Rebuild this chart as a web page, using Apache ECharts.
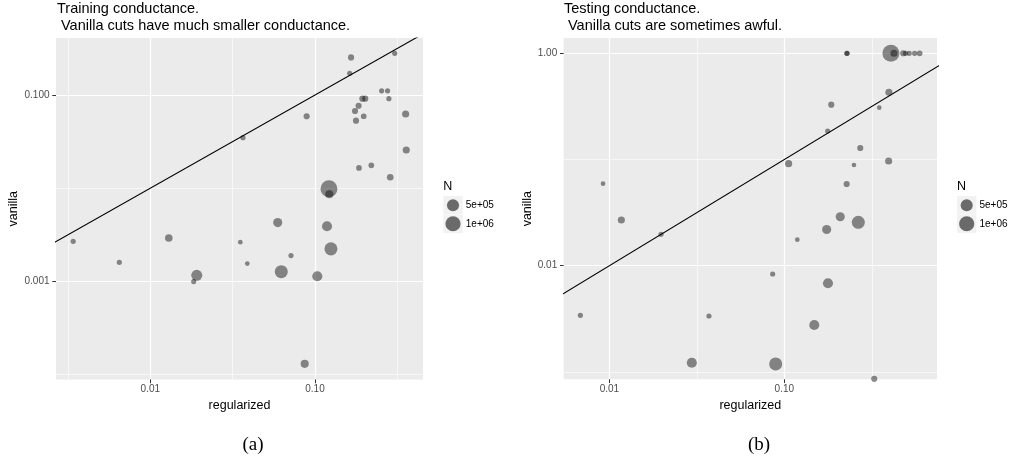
<!DOCTYPE html>
<html><head><meta charset="utf-8">
<script src="https://cdn.jsdelivr.net/npm/echarts@6/dist/echarts.min.js"></script>
<style>html,body{margin:0;padding:0;background:#fff}#c{width:1013px;height:463px}</style>
</head><body><div id="c"></div>
<script>
// ---------- Data: Training conductance (panel a) ----------
const trainRegularized = [0.1656,0.1625,0.305,0.254,0.276,0.194,0.202,0.281,0.184,0.175,0.1976,0.1775,0.089,0.3553,0.0365,0.3583,0.185,0.2198,0.2864,0.1216,0.1222,0.0594,0.1183,0.0352,0.0715,0.0388,0.125,0.0624,0.1033,0.0866,0.0034,0.00648,0.01294,0.01914,0.01834];
const trainVanilla     = [0.2535,0.171,0.280,0.111,0.111,0.0913,0.0913,0.0913,0.0767,0.0673,0.0591,0.053,0.0591,0.0625,0.0348,0.0257,0.0165,0.0176,0.0131,0.00988,0.0086,0.00427,0.0039,0.00263,0.00189,0.00155,0.00223,0.00127,0.001135,0.00013,0.00269,0.0016,0.00292,0.00116,0.000993];
const trainN           = [24000,4100,4100,4100,4100,24000,24000,4100,24000,24000,12000,24000,24000,61000,4100,61000,12000,12000,41000,1360000,115000,186000,273000,300,4100,300,637000,637000,273000,115000,4100,4100,86000,378000,4100];

// ---------- Data: Testing conductance (panel b) ----------
const testRegularized = [0.0092,0.01171,0.228,0.2285,0.407,0.4236,0.4786,0.494,0.518,0.556,0.594,0.3965,0.1856,0.349,0.177,0.2718,0.1059,0.2502,0.395,0.2273,0.2089,0.265,0.1747,0.1187,0.0858,0.1777,0.1484,0.0893,0.3268,0.00683,0.0371,0.0296,0.01974];
const testVanilla     = [0.0592,0.0269,1.0,1.0,1.0,1.0,1.0,1.0,1.0,1.0,1.0,0.4295,0.328,0.3075,0.1855,0.1283,0.0913,0.0887,0.0968,0.0588,0.0289,0.02563,0.0219,0.01757,0.00835,0.00683,0.00276,0.001187,0.00086,0.00341,0.00336,0.00122,0.01976];
const testN           = [300,61000,4100,4100,1360000,61000,24000,4100,4100,4100,12000,61000,24000,300,4100,24000,61000,300,61000,24000,186000,637000,186000,300,4100,273000,273000,637000,24000,4100,4100,273000,4100];

// ---------- Legend / ticks / reference line ----------
const legendN = [5e5, 1e6];
const legendLabels = ['5e+05', '1e+06'];
const trainXTicks = [0.01, 0.1], trainXTickLabels = ['0.01', '0.10'];
const trainYTicks = [0.001, 0.1], trainYTickLabels = ['0.001', '0.100'];
const testXTicks = [0.01, 0.1], testXTickLabels = ['0.01', '0.10'];
const testYTicks = [0.01, 1], testYTickLabels = ['0.01', '1.00'];
const identityLine = [1e-5, 10]; // y = x reference line end values

// ---------- Helpers ----------
const L = Math.log10;
const FONT = "'Liberation Sans', Arial, Helvetica, sans-serif";
const POINT = 'rgba(0,0,0,0.56)';
function sz(n) { return 4.5 + 10.7 * Math.sqrt(n / 1e6); }
function pts(xs, ys, ns) { return xs.map((x, i) => [L(x), L(ys[i]), ns[i]]); }
function minors(majors, lo, hi) {
  const m = majors.map(L), step = m[1] - m[0], out = [];
  for (let j = -4; j <= 6; j++) { const v = m[0] + (j + 0.5) * step; if (v > lo && v < hi) out.push(v); }
  return out;
}
function axisPair(dim, gridIndex, lo, hi, ticks, labels, name, nameGap) {
  const majors = ticks.map(L);
  const base = { type: 'value', gridIndex, min: lo, max: hi, position: dim === 'x' ? 'bottom' : 'left',
    axisLine: { show: false, onZero: false } };
  const minorAxis = Object.assign({}, base, {
    axisLabel: { show: false, customValues: minors(ticks, lo, hi) },
    axisTick: { show: false, customValues: minors(ticks, lo, hi) },
    splitLine: { show: true, lineStyle: { color: '#ffffff', width: 0.6 } }
  });
  const majorAxis = Object.assign({}, base, {
    name, nameLocation: 'middle', nameGap,
    nameTextStyle: { fontFamily: FONT, fontSize: 12.5, color: '#000' },
    axisTick: { show: true, length: 3.7, customValues: majors, lineStyle: { color: '#333', width: 1 } },
    axisLabel: { customValues: majors, margin: dim === 'x' ? 4.5 : 6.5, fontFamily: FONT, fontSize: 10, color: '#4d4d4d',
      formatter: v => { let b = 0; majors.forEach((m, i) => { if (Math.abs(m - v) < Math.abs(majors[b] - v)) b = i; }); return labels[b]; } },
    splitLine: { show: true, lineStyle: { color: '#ffffff', width: 1.2 } }
  });
  return [minorAxis, majorAxis];
}

const tx = axisPair('x', 0, -2.573, -0.344, trainXTicks, trainXTickLabels, 'regularized', 19);
const ty = axisPair('y', 0, -4.054, -0.388, trainYTicks, trainYTickLabels, 'vanilla', 36);
const sx = axisPair('x', 1, -2.261, -0.127, testXTicks, testXTickLabels, 'regularized', 19);
const sy = axisPair('y', 1, -3.070, 0.144, testYTicks, testYTickLabels, 'vanilla', 30);

const pointStyle = { color: POINT, borderWidth: 0 };
const lineData = identityLine.map(v => [L(v), L(v)]);

function legendGraphic(x0) {
  const els = [{ type: 'text', left: x0, top: 180, style: { text: 'N', font: '12.5px ' + FONT, fill: '#000' } }];
  const tops = [196, 214.5], hs = [18.5, 18.5];
  legendN.forEach((n, i) => {
    els.push({ type: 'rect', shape: { x: x0, y: tops[i], width: 19.4, height: hs[i] }, style: { fill: '#F2F2F2' } });
    els.push({ type: 'circle', shape: { cx: x0 + 9.7, cy: tops[i] + hs[i] / 2, r: sz(n) / 2 }, style: { fill: POINT } });
    els.push({ type: 'text', x: x0 + 22.5, y: tops[i] + hs[i] / 2, style: { text: legendLabels[i], font: '10px ' + FONT, fill: '#000', verticalAlign: 'middle', textVerticalAlign: 'middle' } });
  });
  return els;
}

const option = {
  animation: false,
  backgroundColor: '#ffffff',
  title: [
    { text: 'Training conductance.\n Vanilla cuts have much smaller conductance.', left: 57, top: 1, padding: 0,
      textStyle: { fontFamily: FONT, fontSize: 14.5, fontWeight: 'normal', color: '#000', lineHeight: 16.5 } },
    { text: 'Testing conductance.\n Vanilla cuts are sometimes awful.', left: 564, top: 1, padding: 0,
      textStyle: { fontFamily: FONT, fontSize: 14.5, fontWeight: 'normal', color: '#000', lineHeight: 16.5 } }
  ],
  grid: [
    { left: 56, top: 38, width: 367, height: 341.5, show: true, backgroundColor: '#EBEBEB', borderWidth: 0 },
    { left: 563.7, top: 38, width: 373.3, height: 341.3, show: true, backgroundColor: '#EBEBEB', borderWidth: 0 }
  ],
  xAxis: [tx[0], tx[1], sx[0], sx[1]],
  yAxis: [ty[0], ty[1], sy[0], sy[1]],
  series: [
    { type: 'scatter', xAxisIndex: 1, yAxisIndex: 1, data: pts(trainRegularized, trainVanilla, trainN),
      symbol: 'circle', symbolSize: v => sz(v[2]), itemStyle: pointStyle, z: 3 },
    { type: 'line', xAxisIndex: 1, yAxisIndex: 1, data: lineData, symbol: 'none', clip: true,
      lineStyle: { color: '#000', width: 1.1 }, z: 4 },
    { type: 'scatter', xAxisIndex: 3, yAxisIndex: 3, data: pts(testRegularized, testVanilla, testN),
      symbol: 'circle', symbolSize: v => sz(v[2]), itemStyle: pointStyle, z: 3 },
    { type: 'line', xAxisIndex: 3, yAxisIndex: 3, data: lineData, symbol: 'none', clip: true,
      lineStyle: { color: '#000', width: 1.1 }, z: 4 }
  ],
  graphic: [
    ...legendGraphic(443.3),
    ...legendGraphic(957),
    { type: 'text', x: 253, y: 445, style: { text: '(a)', font: "19px 'Liberation Serif', 'Times New Roman', serif", fill: '#000', align: 'center', verticalAlign: 'middle', textAlign: 'center', textVerticalAlign: 'middle' } },
    { type: 'text', x: 759, y: 445, style: { text: '(b)', font: "19px 'Liberation Serif', 'Times New Roman', serif", fill: '#000', align: 'center', verticalAlign: 'middle', textAlign: 'center', textVerticalAlign: 'middle' } }
  ]
};
const chart = echarts.init(document.getElementById('c'), null, { renderer: 'canvas' });
chart.setOption(option);
</script></body></html>
